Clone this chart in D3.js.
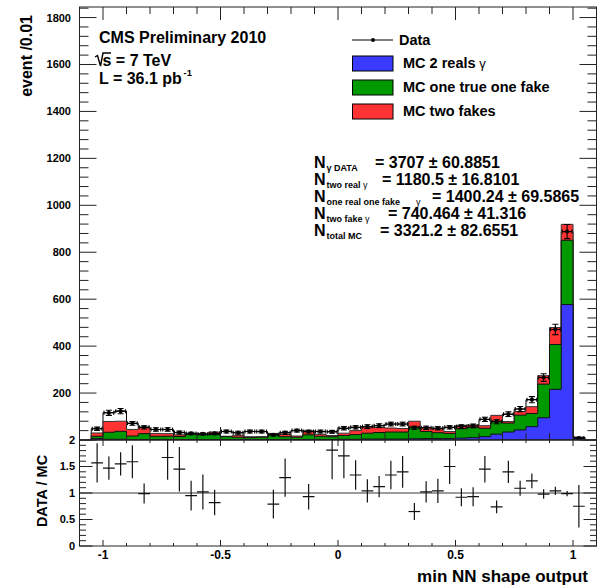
<!DOCTYPE html>
<html><head><meta charset="utf-8">
<script src="https://cdn.jsdelivr.net/npm/d3@7"></script>
<style>
body{margin:0;background:#fff}
text{font-family:"Liberation Sans",Arial,Helvetica,sans-serif;font-weight:bold;fill:#000}
</style>
</head><body><svg id="c" width="598" height="588"></svg>
<script>
// ---------------- data ----------------
const binCenters = [-1.025,-0.975,-0.925,-0.875,-0.825,-0.775,-0.725,-0.675,-0.625,-0.575,-0.525,-0.475,-0.425,-0.375,-0.325,-0.275,-0.225,-0.175,-0.125,-0.075,-0.025,
  0.025,0.075,0.125,0.175,0.225,0.275,0.325,0.375,0.425,0.475,0.525,0.575,0.625,0.675,0.725,0.775,0.825,0.875,0.925,0.975,1.025];
const dataCounts = [48,116,123,71,54,45,45,32,28,26,28,36,31,36,36,22,31,40,36,36,35,
  50,54,57,61,68,68,52,52,50,54,57,60,88,78,110,132,172,266,471,888,8];
const dataErrors = [7,11,11,8,7,7,7,6,5,5,5,6,6,6,6,5,6,6,6,6,6,
  7,7,8,8,8,8,7,7,7,7,8,8,9,9,10,11,13,16,22,30,3];
const mcTwoReal = [6,3,3,2,2,2,2,1,1,1,1,2,2,2,2,2,2,2,2,2,2,
  3,3,4,4,4,4,5,6,6,6,8,10,14,25,34,43,57,95,216,577,11];
const mcOneTrueOneFake = [10,30,34,15,25,14,14,14,24,22,22,12,10,8,10,20,12,10,20,14,12,
  16,20,25,28,30,30,50,30,25,22,40,44,36,55,38,63,56,143,191,274,0];
const mcTwoFakes = [14,46,43,28,28,12,11,7,4,2,11,2,8,4,2,6,10,5,17,8,5,
  10,17,26,22,17,15,25,16,17,8,14,10,11,25,7,15,29,36,72,68,0];
const ratioValues = [1.57,1.47,1.55,1.59,0.99,null,1.67,1.45,0.95,1.02,0.82,null,null,null,null,0.79,1.29,null,0.93,null,1.81,
  1.70,1.34,1.04,1.12,1.34,1.40,0.65,1.02,1.04,1.50,0.92,0.93,1.45,0.74,1.40,1.09,1.23,0.98,1.04,0.99,0.75];
const ratioErrors = [0.37,0.22,0.22,0.31,0.19,null,0.42,0.42,0.28,0.33,0.24,null,null,null,null,0.27,0.36,null,0.24,null,0.55,
  0.42,0.28,0.22,0.20,0.27,0.30,0.16,0.20,0.23,0.33,0.17,0.18,0.25,0.12,0.21,0.14,0.14,0.09,0.08,0.05,0.40];
const xTickLabels = [-1,-0.5,0,0.5,1];
const yTickLabels = [200,400,600,800,1000,1200,1400,1600,1800];
const ratioTickLabels = [0,0.5,1,1.5,2];
const legendLabels = ["Data","MC 2 reals","MC one true one fake","MC two fakes"];
const colors = {blue:"#3b3bff", green:"#009a00", red:"#ff3333"};
const binWidth = 0.05;

// ---------------- scales ----------------
const svg = d3.select("#c");
const X0=79.5, X1=596.5, YT=7, YB=440, RB=546;
const x = d3.scaleLinear().domain([-1.1,1.1]).range([X0,X1]);
const y = d3.scaleLinear().domain([0,1845]).range([YB,YT]);
const yr = d3.scaleLinear().domain([0,2]).range([RB,YB]);

const defs = svg.append("defs");
defs.append("clipPath").attr("id","clipMain").append("rect").attr("x",X0).attr("y",YT).attr("width",X1-X0).attr("height",YB-YT);
defs.append("clipPath").attr("id","clipRatio").append("rect").attr("x",X0).attr("y",YB).attr("width",X1-X0).attr("height",RB-YB);

const cum2 = mcTwoReal.map((v,i)=>v+mcOneTrueOneFake[i]);
const cum3 = cum2.map((v,i)=>v+mcTwoFakes[i]);

function stepArea(vals){
  const n = vals.length;
  let p = `M${x(binCenters[0]-binWidth/2)},${y(0)}`;
  vals.forEach((v,i)=>{
    p += `L${x(binCenters[i]-binWidth/2)},${y(v)}L${x(binCenters[i]+binWidth/2)},${y(v)}`;
  });
  p += `L${x(binCenters[n-1]+binWidth/2)},${y(0)}Z`;
  return p;
}

const gMain = svg.append("g").attr("clip-path","url(#clipMain)");
gMain.append("path").attr("d",stepArea(dataCounts)).attr("fill","none").attr("stroke","#000").attr("stroke-width",1);
gMain.append("path").attr("d",stepArea(cum3)).attr("fill",colors.red).attr("stroke","#333").attr("stroke-width",1);
gMain.append("path").attr("d",stepArea(cum2)).attr("fill",colors.green).attr("stroke","#111").attr("stroke-width",1);
gMain.append("path").attr("d",stepArea(mcTwoReal)).attr("fill",colors.blue).attr("stroke","#111").attr("stroke-width",1);

const gPts = gMain.append("g").attr("stroke","#000").attr("stroke-width",1.1);
binCenters.forEach((c,i)=>{
  const d=dataCounts[i], e=dataErrors[i];
  const lo=x(c-binWidth/2)+1, hi=x(c+binWidth/2)-1, cy=y(d);
  gPts.append("line").attr("x1",lo).attr("x2",hi).attr("y1",cy).attr("y2",cy);
  gPts.append("line").attr("x1",lo).attr("x2",lo).attr("y1",cy-2).attr("y2",cy+2);
  gPts.append("line").attr("x1",hi).attr("x2",hi).attr("y1",cy-2).attr("y2",cy+2);
  gPts.append("line").attr("x1",x(c)).attr("x2",x(c)).attr("y1",y(d-e)).attr("y2",y(d+e));
  gPts.append("line").attr("x1",x(c)-3).attr("x2",x(c)+3).attr("y1",y(d-e)).attr("y2",y(d-e));
  gPts.append("line").attr("x1",x(c)-3).attr("x2",x(c)+3).attr("y1",y(d+e)).attr("y2",y(d+e));
  gPts.append("circle").attr("cx",x(c)).attr("cy",cy).attr("r",2.1).attr("fill","#000").attr("stroke","none");
});

// ratio panel
svg.append("line").attr("x1",X0).attr("x2",X1).attr("y1",yr(1)).attr("y2",yr(1)).attr("stroke","#7a7a7a").attr("stroke-width",1.6);
const gR = svg.append("g").attr("clip-path","url(#clipRatio)").attr("stroke","#111").attr("stroke-width",1.2);
binCenters.forEach((c,i)=>{
  const r=ratioValues[i]; if(r===null) return;
  const e=ratioErrors[i];
  gR.append("line").attr("x1",x(c-binWidth/2)).attr("x2",x(c+binWidth/2)).attr("y1",yr(r)).attr("y2",yr(r));
  gR.append("line").attr("x1",x(c)).attr("x2",x(c)).attr("y1",yr(r-e)).attr("y2",yr(r+e));
});

// ---------------- axes / ticks ----------------
const axG = svg.append("g").attr("stroke","#222").attr("stroke-width",1);
function tick(x1,y1,x2,y2){axG.append("line").attr("x1",x1).attr("y1",y1).attr("x2",x2).attr("y2",y2);}
axG.append("rect").attr("x",X0).attr("y",YT).attr("width",X1-X0).attr("height",YB-YT).attr("fill","none");
axG.append("rect").attr("x",X0).attr("y",YB).attr("width",X1-X0).attr("height",RB-YB).attr("fill","none");
const xt = d3.range(-11,12).map(k=>k/10);
xt.forEach(v=>{
  const major = Math.abs(v*2-Math.round(v*2))<1e-6;
  const px=x(v);
  tick(px,YB,px,YB-(major?13:7));
  tick(px,YT,px,YT+(major?13:7));
  tick(px,RB,px,RB-(major?6:3));
  tick(px,YB,px,YB+(major?6:3));
});
d3.range(0,1845,40).forEach(v=>{
  const major = v%200===0; const py=y(v); const L=major?17:9;
  tick(X0,py,X0+L,py); tick(X1,py,X1-L,py);
});
d3.range(0,21).map(k=>k/10).forEach(v=>{
  const major = Math.abs(v*2-Math.round(v*2))<1e-6; const py=yr(v); const L=major?13:6.5;
  tick(X0,py,X0+L,py); tick(X1,py,X1-L,py);
});

svg.selectAll(".yl").data(yTickLabels).enter().append("text")
  .attr("x",71).attr("y",d=>y(d)).attr("dy","0.36em").attr("text-anchor","end").attr("font-size",11).text(d=>d);
svg.selectAll(".rl").data(ratioTickLabels).enter().append("text")
  .attr("x",75).attr("y",d=>yr(d)).attr("dy","0.36em").attr("text-anchor","end").attr("font-size",11).text(d=>d);
svg.selectAll(".xl").data(xTickLabels).enter().append("text")
  .attr("x",d=>x(d)).attr("y",559).attr("text-anchor","middle").attr("font-size",12).text(d=>d);

svg.append("text").attr("transform","translate(32,15) rotate(-90)").attr("text-anchor","end").attr("font-size",16).text("event /0.01");
svg.append("text").attr("transform","translate(47,491) rotate(-90)").attr("text-anchor","middle").attr("font-size",14.5).text("DATA / MC");
svg.append("text").attr("x",588).attr("y",582).attr("text-anchor","end").attr("font-size",17).text("min NN shape output");

// CMS text
svg.append("text").attr("x",99).attr("y",43).attr("font-size",16).text("CMS Preliminary 2010");
svg.append("path").attr("d","M95,57 L97.5,55.5 L100.5,66 L103,53 L111,53").attr("fill","none").attr("stroke","#000").attr("stroke-width",1.4);
svg.append("text").attr("x",102.5).attr("y",66).attr("font-size",16).text("s = 7 TeV");
svg.append("text").attr("x",99).attr("y",84).attr("font-size",16).text("L = 36.1 pb");
svg.append("text").attr("x",183.5).attr("y",76).attr("font-size",9.5).text("-1");

// legend
const lg = svg.append("g");
lg.append("line").attr("x1",352).attr("x2",393).attr("y1",40).attr("y2",40).attr("stroke","#000").attr("stroke-width",1);
lg.append("circle").attr("cx",373).attr("cy",40).attr("r",2).attr("fill","#000");
lg.append("text").attr("x",399).attr("y",45).attr("font-size",14.5).text(legendLabels[0]);
[colors.blue,colors.green,colors.red].forEach((col,i)=>{
  const yy = 56+i*24;
  lg.append("rect").attr("x",352.5).attr("y",yy).attr("width",40.5).attr("height",15).attr("fill",col).attr("stroke","#000").attr("stroke-width",1);
  const t = lg.append("text").attr("x",403).attr("y",yy+12).attr("font-size",14.5).text(legendLabels[i+1]);
  if(i===0) t.append("tspan").style("font-weight","normal").attr("font-size",13).text(" \u03b3");
});

// statistics block
const stats = [
  {sub:"\u03b3 DATA", gx:null, eqx:375, val:"= 3707  \u00b1 60.8851", y:168},
  {sub:"two real", gx:363, eqx:382, val:"= 1180.5 \u00b1 16.8101", y:185},
  {sub:"one real one fake", gx:416, eqx:432, val:"= 1400.24 \u00b1 69.5865", y:202},
  {sub:"two fake", gx:365, eqx:388, val:"= 740.464 \u00b1 41.316", y:219},
  {sub:"total MC", gx:null, eqx:380, val:"= 3321.2 \u00b1 82.6551", y:236}
];
stats.forEach(s=>{
  svg.append("text").attr("x",314).attr("y",s.y).attr("font-size",16).text("N");
  svg.append("text").attr("x",326.5).attr("y",s.y+3).attr("font-size",9).text(s.sub);
  if(s.gx!==null) svg.append("text").attr("x",s.gx).attr("y",s.y+2.5).attr("font-size",9).style("font-weight","normal").text("\u03b3");
  svg.append("text").attr("x",s.eqx).attr("y",s.y).attr("font-size",16).text(s.val);
});
</script>
</body></html>
